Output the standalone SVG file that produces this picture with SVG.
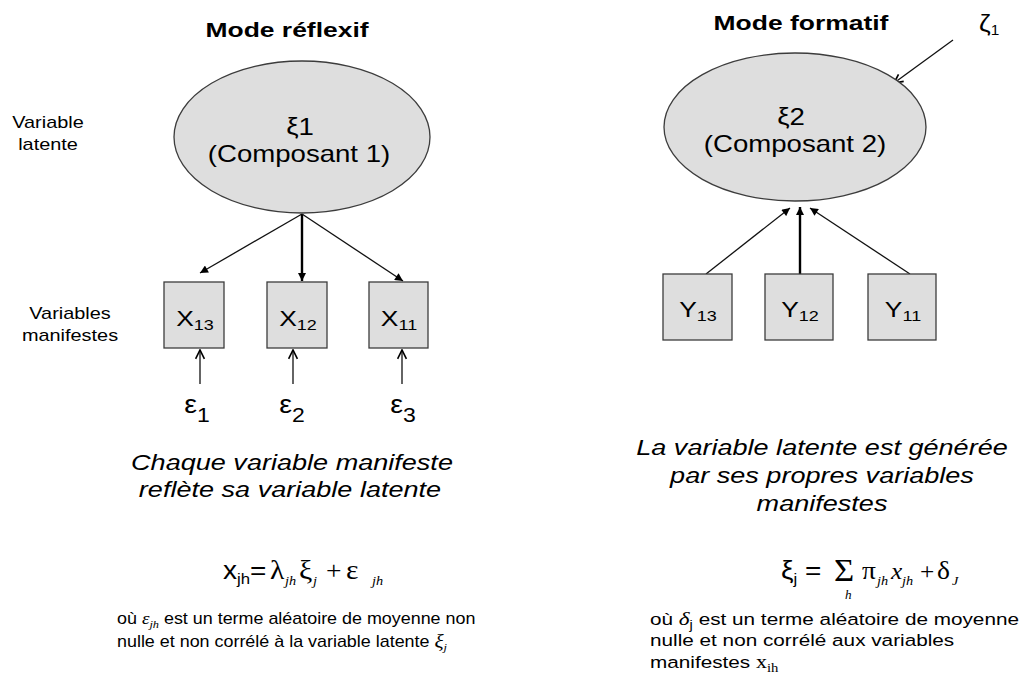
<svg xmlns="http://www.w3.org/2000/svg" width="1024" height="674" viewBox="0 0 1024 674">
<style>
.s{font-family:"Liberation Sans",Arial,sans-serif;fill:#000}
.r{font-family:"Liberation Serif","Times New Roman",serif;fill:#000}
.i{font-style:italic}
.b{font-weight:bold}
.node{fill:#dedede;stroke:#3c3c3c;stroke-width:1.3}
.ln{stroke:#111;stroke-width:1.3;fill:none}
.thick{stroke:#000;stroke-width:2.4;fill:none}
</style>
<defs>
<marker id="fa" viewBox="0 0 10 10" refX="10" refY="5" markerWidth="9" markerHeight="8" markerUnits="userSpaceOnUse" orient="auto"><path d="M0,0 L10,5 L0,10 z" fill="#000"/></marker>
<marker id="oa" viewBox="0 0 10 10" refX="9" refY="5" markerWidth="11" markerHeight="11" markerUnits="userSpaceOnUse" orient="auto"><path d="M1,1 L9,5 L1,9" fill="none" stroke="#000" stroke-width="1.5"/></marker>
</defs>
<rect width="1024" height="674" fill="#fff"/>

<text class="s b" font-size="21" text-anchor="middle" transform="translate(287,37) scale(1.26,1)">Mode réflexif</text>
<text class="s b" font-size="21" text-anchor="middle" transform="translate(801,30) scale(1.26,1)">Mode formatif</text>

<text class="s" font-size="17" text-anchor="middle" transform="translate(48,128) scale(1.17,1)">Variable</text>
<text class="s" font-size="17" text-anchor="middle" transform="translate(48,150) scale(1.17,1)">latente</text>
<text class="s" font-size="17" text-anchor="middle" transform="translate(70,319) scale(1.17,1)">Variables</text>
<text class="s" font-size="17" text-anchor="middle" transform="translate(70,341) scale(1.17,1)">manifestes</text>

<g id="connectors">
<line class="ln" x1="302" y1="214" x2="200" y2="273" marker-end="url(#fa)"/>
<line class="thick" x1="302" y1="214" x2="302" y2="281" marker-end="url(#fa)"/>
<line class="ln" x1="302" y1="214" x2="403" y2="281" marker-end="url(#fa)"/>
<line class="ln" x1="200" y1="384" x2="200" y2="350" marker-end="url(#oa)"/>
<line class="ln" x1="293" y1="384" x2="293" y2="350" marker-end="url(#oa)"/>
<line class="ln" x1="402" y1="384" x2="402" y2="350" marker-end="url(#oa)"/>
<line class="ln" x1="706" y1="274" x2="790" y2="208" marker-end="url(#fa)"/>
<line class="thick" x1="800" y1="274" x2="800" y2="207" marker-end="url(#fa)"/>
<line class="ln" x1="910" y1="274" x2="810" y2="208" marker-end="url(#fa)"/>
<line class="ln" x1="953" y1="40" x2="894" y2="83" marker-end="url(#oa)"/>
</g>

<g id="xi1">
<ellipse class="node" cx="302" cy="137" rx="128" ry="76"/>
<text class="s" font-size="23" text-anchor="middle" transform="translate(300,135) scale(1.2,1)">ξ1</text>
<text class="s" font-size="23" text-anchor="middle" transform="translate(299,162) scale(1.2,1)">(Composant 1)</text>
</g>
<g id="xi2">
<ellipse class="node" cx="795" cy="127" rx="131" ry="74"/>
<text class="s" font-size="23" text-anchor="middle" transform="translate(791,125) scale(1.2,1)">ξ2</text>
<text class="s" font-size="23" text-anchor="middle" transform="translate(795,152) scale(1.2,1)">(Composant 2)</text>
</g>
<g id="zeta1">
<text class="s" font-size="24" transform="translate(979,32) scale(1.1,1)">ζ<tspan font-size="14" dy="3">1</tspan></text>
</g>

<g id="x13"><rect class="node" x="164" y="282" width="60" height="66"/>
<text class="s" font-size="22" text-anchor="middle" transform="translate(195,326) scale(1.2,1)">X<tspan font-size="15" dy="4">13</tspan></text></g>
<g id="x12"><rect class="node" x="267" y="282" width="60" height="66"/>
<text class="s" font-size="22" text-anchor="middle" transform="translate(298,326) scale(1.2,1)">X<tspan font-size="15" dy="4">12</tspan></text></g>
<g id="x11"><rect class="node" x="369" y="282" width="59" height="66"/>
<text class="s" font-size="22" text-anchor="middle" transform="translate(399,326) scale(1.2,1)">X<tspan font-size="15" dy="4">11</tspan></text></g>

<g id="y13"><rect class="node" x="663" y="274" width="69" height="66"/>
<text class="s" font-size="22" text-anchor="middle" transform="translate(698,317) scale(1.2,1)">Y<tspan font-size="15" dy="4">13</tspan></text></g>
<g id="y12"><rect class="node" x="765" y="274" width="68" height="66"/>
<text class="s" font-size="22" text-anchor="middle" transform="translate(800,317) scale(1.2,1)">Y<tspan font-size="15" dy="4">12</tspan></text></g>
<g id="y11"><rect class="node" x="868" y="274" width="68" height="66"/>
<text class="s" font-size="22" text-anchor="middle" transform="translate(903,317) scale(1.2,1)">Y<tspan font-size="15" dy="4">11</tspan></text></g>

<g id="eps1"><text class="s" font-size="25" text-anchor="middle" transform="translate(197,413) scale(1.15,1)">ε<tspan font-size="20" dy="9">1</tspan></text></g>
<g id="eps2"><text class="s" font-size="25" text-anchor="middle" transform="translate(292,413) scale(1.15,1)">ε<tspan font-size="20" dy="9">2</tspan></text></g>
<g id="eps3"><text class="s" font-size="25" text-anchor="middle" transform="translate(403,413) scale(1.15,1)">ε<tspan font-size="20" dy="9">3</tspan></text></g>

<text class="s i" font-size="22" text-anchor="middle" transform="translate(292,470) scale(1.23,1)">Chaque variable manifeste</text>
<text class="s i" font-size="22" text-anchor="middle" transform="translate(290,497) scale(1.23,1)">reflète sa variable latente</text>

<text class="s i" font-size="22" text-anchor="middle" transform="translate(822,455) scale(1.23,1)">La variable latente est générée</text>
<text class="s i" font-size="22" text-anchor="middle" transform="translate(822,483) scale(1.23,1)">par ses propres variables</text>
<text class="s i" font-size="22" text-anchor="middle" transform="translate(822,511) scale(1.23,1)">manifestes</text>

<!-- left formula -->
<g id="formula1">
<text class="s" font-size="25" transform="translate(223,579) scale(1.12,1)">x<tspan font-size="15" dy="5">jh</tspan><tspan dy="-5">=</tspan></text>
<text class="r" font-size="27" transform="translate(270,579) scale(1.1,1)">λ</text>
<text class="r i" font-size="13" transform="translate(285,585) scale(1.1,1)">jh</text>
<text class="r" font-size="27" transform="translate(299,579) scale(1.1,1)">ξ</text>
<text class="r i" font-size="13" transform="translate(313,585) scale(1.1,1)">j</text>
<text class="r" font-size="25" transform="translate(326,579) scale(1.1,1)">+</text>
<text class="r" font-size="27" transform="translate(346,579) scale(1.1,1)">ε</text>
<text class="r i" font-size="13" transform="translate(372,585) scale(1.1,1)">jh</text>
</g>
<text class="s" font-size="16" transform="translate(117,624) scale(1.12,1)">où <tspan class="r i" font-size="17">ε</tspan><tspan class="r i" font-size="11" dy="4">jh</tspan><tspan dy="-4"> est un terme aléatoire de moyenne non</tspan></text>
<text class="s" font-size="16" transform="translate(117,647) scale(1.12,1)">nulle et non corrélé à la variable latente <tspan class="r i" font-size="19">ξ</tspan><tspan class="r i" font-size="11" dy="4">j</tspan></text>

<!-- right formula -->
<g id="formula2">
<text class="s" font-size="25" transform="translate(781,579) scale(1.12,1)">ξ<tspan font-size="15" dy="5">j</tspan><tspan dy="-5"> =</tspan></text>
<text class="r" font-size="31" transform="translate(834,581) scale(1.12,1)">Σ</text>
<text class="r i" font-size="12" transform="translate(845,599) scale(1.1,1)">h</text>
<text class="r" font-size="25" transform="translate(862,579) scale(1.1,1)">π</text>
<text class="r i" font-size="13" transform="translate(877,585) scale(1.1,1)">jh</text>
<text class="r i" font-size="23" transform="translate(891,579) scale(1.1,1)">x</text>
<text class="r i" font-size="13" transform="translate(902,585) scale(1.1,1)">jh</text>
<text class="r" font-size="23" transform="translate(920,579) scale(1.1,1)">+</text>
<text class="r" font-size="25" transform="translate(937,579) scale(1.1,1)">δ</text>
<text class="r i" font-size="13" transform="translate(952,585) scale(1.1,1)">J</text>
</g>
<text class="s" font-size="17" transform="translate(650,625) scale(1.22,1)">où <tspan class="r i" font-size="19">δ</tspan><tspan font-size="12" dy="4">j</tspan><tspan dy="-4"> est un terme aléatoire de moyenne</tspan></text>
<text class="s" font-size="17" transform="translate(650,646) scale(1.22,1)">nulle et non corrélé aux variables</text>
<text class="s" font-size="17" transform="translate(650,668) scale(1.22,1)">manifestes <tspan class="r" font-size="18">x</tspan><tspan class="r" font-size="12" dy="4">ih</tspan></text>
</svg>
